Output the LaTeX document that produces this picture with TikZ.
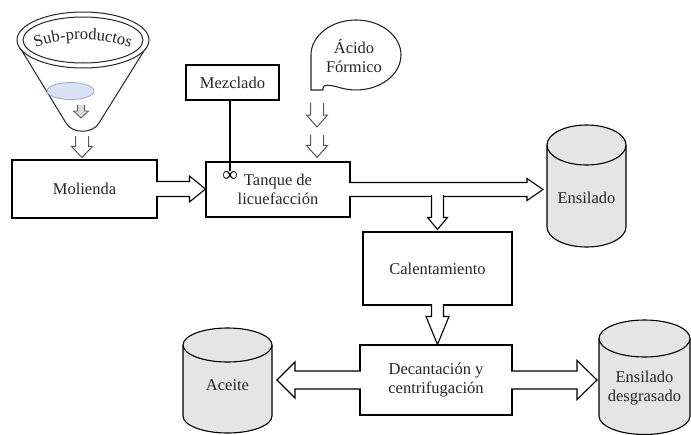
\documentclass[tikz,border=0pt]{standalone}
\usepackage{fontspec}
\setmainfont{Liberation Serif}
\usetikzlibrary{calc,decorations.text}
\newcommand\lblfont{\fontsize{16.5}{19.5}\selectfont}
\newcommand\mixfont{\fontsize{21}{21}\selectfont\bfseries}
\tikzset{
  box/.style={draw, line width=1.1pt, fill=white, inner sep=0pt, font=\lblfont, align=center, text=black!85},
  lbl/.style={font=\lblfont, align=center, text=black!85, inner sep=0pt},
  mixlbl/.style={font=\mixfont, inner sep=0pt},
  barr/.style={draw, line width=1.1pt, fill=white, line join=miter, miter limit=20},
  garr/.style={barr, draw=black!65, line width=1pt},
  cylfill/.style={fill=black!10},
  cylline/.style={draw, line width=1.1pt},
}
% block arrow: [style] start, end, shaft half width, head half width, head length
\newcommand\barrow[6][]{%
  \path (#2) coordinate (ba-s);
  \path (#3) coordinate (ba-e);
  \path ($(ba-e)!#6!(ba-s)$) coordinate (ba-h);
  \filldraw[barr,#1] ($(ba-s)!#4!90:(ba-e)$) -- ($(ba-h)!#4!90:(ba-e)$) -- ($(ba-h)!#5!90:(ba-e)$) -- (ba-e) -- ($(ba-h)!#5!-90:(ba-e)$) -- ($(ba-h)!#4!-90:(ba-e)$) -- ($(ba-s)!#4!-90:(ba-e)$);
}
\begin{document}
\begin{tikzpicture}[x=1pt,y=-1pt]
\useasboundingbox[fill=white] (0,0) rectangle (691,434);

% ---------- funnel ----------
\filldraw[fill=white, draw=black!85, line width=1pt] (19,46) -- (66,123) .. controls (72,134) and (93,134) .. (99,123) -- (147,46);
\filldraw[fill=white, draw=black!85, line width=1pt] (83,40) ellipse[x radius=66, y radius=28];
\draw[black!85, line width=1pt] (83,40) ellipse[x radius=60, y radius=23];
\path[decorate, decoration={text along path, text={|\lblfont\color{black!85}|Sub-productos}, text align=center}]
  (28,51) .. controls (58,36) and (108,36) .. (138,51);
\filldraw[fill={rgb,255:red,218;green,227;blue,243}, draw={rgb,255:red,143;green,170;blue,220}, line width=0.8pt] (70.5,91) ellipse[x radius=23.5, y radius=8.5];
\coordinate (fin-a) at (81,105);
\coordinate (fin-b) at (81,118);
\barrow[garr, fill=black!15, line width=0.8pt]{fin-a}{fin-b}{3.5pt}{7.5pt}{7pt}
\coordinate (fun-out) at (82,136);

% ---------- boxes ----------
\node[box, minimum width=145pt, minimum height=58pt] (mol) at (84.5,189) {Molienda};
\node[box, minimum width=144pt, minimum height=55pt] (tq) at (278,189.5) {Tanque de\\licuefacción};
\node[box, minimum width=93pt, minimum height=35pt] (mez) at (232.5,82.5) {Mezclado};
\node[box, minimum width=149pt, minimum height=73pt] (cal) at (437.5,268.5) {Calentamiento};
\node[box, minimum width=152pt, minimum height=70pt] (dec) at (436,380) {Decantación y\\centrifugación};

% mixer
\node[mixlbl] (mixsym) at (230,176) {∞};
\draw[line width=1.1pt] (mez.south -| mixsym) -- (mixsym.north);

% ---------- Acido bubble ----------
\filldraw[fill=white, draw=black!85, line width=1.1pt] (311,90) -- (311,55)
  arc[start angle=180, end angle=473.6, x radius=45, y radius=35]
  .. controls (330,85) and (323,84) .. (323,88) -- (323,90) -- cycle;
\node[lbl] (acido) at (354,56) {Ácido\\Fórmico};
\coordinate (ac-a) at (317,103);
\coordinate (ac-b) at (317,127);
\coordinate (ac-c) at (317,135);

% ---------- cylinders ----------
% Ensilado
\fill[cylfill] (547,145) -- (547,227) arc[start angle=180,end angle=0,x radius=39.5,y radius=20] -- (626,145) -- cycle;
\draw[cylline] (547,145) -- (547,227) arc[start angle=180,end angle=0,x radius=39.5,y radius=20] -- (626,145);
\filldraw[cylfill, cylline] (586.5,145) ellipse[x radius=39.5, y radius=20];
\node[lbl] (ens) at (586.5,198) {Ensilado};
% Aceite
\fill[cylfill] (183,345) -- (183,416) arc[start angle=180,end angle=0,x radius=44.5,y radius=17] -- (272,345) -- cycle;
\draw[cylline] (183,345) -- (183,416) arc[start angle=180,end angle=0,x radius=44.5,y radius=17] -- (272,345);
\filldraw[cylfill, cylline] (227.5,345) ellipse[x radius=44.5, y radius=17];
\node[lbl] (ace) at (227.5,385) {Aceite};
% Ensilado desgrasado
\fill[cylfill] (599,338.5) -- (599,416) arc[start angle=180,end angle=0,x radius=45.5,y radius=18.5] -- (690,338.5) -- cycle;
\draw[cylline] (599,338.5) -- (599,416) arc[start angle=180,end angle=0,x radius=45.5,y radius=18.5] -- (690,338.5);
\filldraw[cylfill, cylline] (644.5,338.5) ellipse[x radius=45.5, y radius=18.5];
\node[lbl] (ensd) at (644.5,388) {Ensilado\\desgrasado};

\coordinate (ensL) at (543,0);
\coordinate (aceR) at (277,0);
\coordinate (ensdL) at (597,0);

% ---------- block arrows ----------
\barrow[garr]{fun-out}{$(fun-out |- mol.north)+(0,-2)$}{6.5pt}{10.5pt}{11pt}
\barrow[garr]{ac-a}{ac-b}{6.5pt}{10.5pt}{12pt}
\barrow[garr]{ac-c}{$(ac-c |- tq.north)+(0,-4)$}{6.5pt}{10.5pt}{12pt}
\barrow{$(mol.east)+(-1.5,0)$}{tq.west |- mol.east}{7.5pt}{13pt}{16pt}
\barrow{$(tq.east)+(-1.5,0)$}{ensL |- tq.east}{7pt}{11pt}{16pt}
\barrow{$(cal.north |- tq.east)+(0,5.5)$}{$(cal.north)+(0,-2)$}{6pt}{10pt}{12pt}
\barrow{$(cal.south)+(0,-1.5)$}{cal.south |- dec.north}{6pt}{11.5pt}{28pt}
\barrow{$(dec.west)+(1.5,0)$}{aceR |- dec.west}{9pt}{18pt}{18pt}
\barrow{$(dec.east)+(-1.5,0)$}{ensdL |- dec.east}{9pt}{19.5pt}{20pt}
\end{tikzpicture}
\end{document}
